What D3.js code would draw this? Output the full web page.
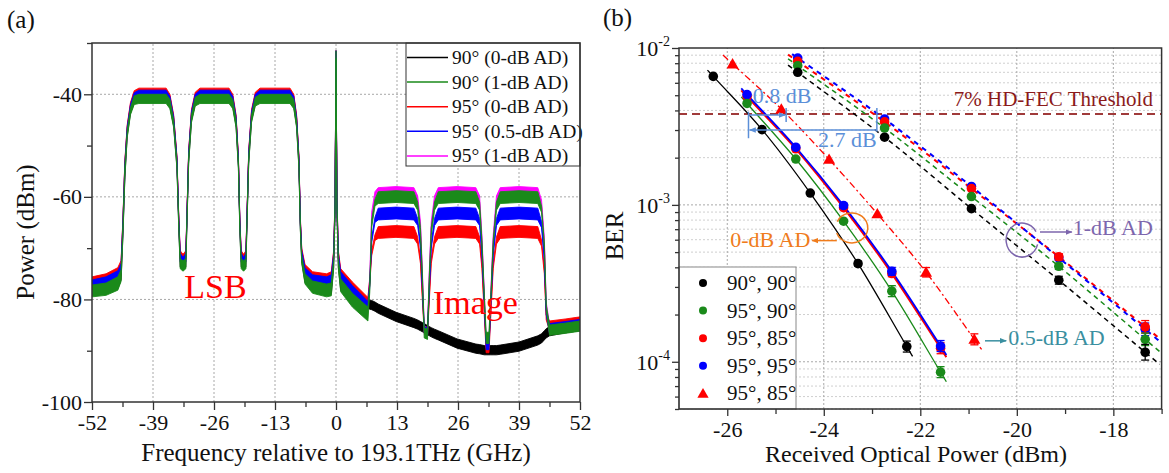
<!DOCTYPE html>
<html>
<head>
<meta charset="utf-8">
<title>Spectra and BER</title>
<script src="https://cdn.jsdelivr.net/npm/d3@7"></script>
<style>
  body { margin: 0; background: #fff; }
  .tick line { stroke: #333; stroke-width: 1.3; }
</style>
</head>
<body>
<svg id="fig" width="1169" height="473"></svg>
<script>
// ---------------- data: panel (a) optical spectra ----------------
// frequency grid (GHz, relative to 193.1 THz) shared by all traces,
// each trace keeps the lower / upper edge of its noise band (dBm)
var specFreq = [-52, -49, -46.5, -45.8, -45.4, -45.0, -44.5, -43.8, -43.0, -42.0,
  -36.2, -35.4, -34.6, -33.9, -33.5, -33.2, -32.6, -32.0, -31.8, -31.4,
  -30.8, -30.0, -29.0, -22.8, -22.0, -21.3, -20.8, -20.5, -20.2, -19.7,
  -19.2, -19.0, -18.6, -18.0, -17.2, -16.2, -9.8, -9.0, -8.4, -7.9,
  -7.6, -7.3, -6.6, -5.0, -2.0, -1.0, -0.5, -0.2, 0, 0.2,
  0.5, 1.0, 3.5, 6.8, 7.2, 7.6, 8.3, 9.0, 12.8, 16.6,
  17.4, 18.0, 18.4, 18.8, 19.5, 19.9, 20.3, 21.0, 21.8, 25.8,
  29.8, 30.6, 31.1, 31.6, 32.0, 32.6, 33.0, 33.5, 34.2, 35.0,
  39.0, 43.0, 43.8, 44.4, 44.8, 45.5, 49, 52];

var black0Lo = [-79.2, -78.9, -77.9, -76.2, -67.2, -56.2, -48.2, -43.7, -41.7, -41.5,
  -41.5, -42.5, -46.2, -54.2, -66.2, -73.7, -74.2, -73.7, -66.2, -53.2,
  -45.2, -42, -41.5, -41.5, -42.5, -46.2, -54.2, -66.2, -73.7, -74.2,
  -73.7, -66.2, -53.2, -45.2, -42, -41.5, -41.5, -42.5, -46.2, -54.2,
  -66.2, -72.7, -76.7, -78.5, -79.2, -79, -73.7, -62.7, -33, -62.7,
  -73.7, -78.2, -81.2, -81.7, -81.9, -82, -82.3, -82.7, -84.3, -85.5,
  -85.8, -86.1, -86.3, -86.5, -86.9, -87.1, -87.3, -87.6, -87.9, -89.5,
  -90.5, -90.6, -90.7, -90.8, -90.8, -90.8, -90.8, -90.8, -90.8, -90.7,
  -90.1, -88.9, -88.5, -87.9, -87.5, -87.1, -86.5, -86.1];
var black0Hi = [-76.9, -76.5, -75.3, -73.9, -64.7, -53.7, -46.7, -42.3, -40, -39.7,
  -39.7, -40.7, -44.7, -52.7, -64.7, -71.7, -72.2, -71.7, -64.7, -51.7,
  -43.7, -40.3, -39.7, -39.7, -40.7, -44.7, -52.7, -64.7, -71.7, -72.2,
  -71.7, -64.7, -51.7, -43.7, -40.3, -39.7, -39.7, -40.7, -44.7, -52.7,
  -64.7, -71.2, -74.7, -76.1, -76.7, -76.5, -71.7, -60.7, -31.5, -60.7,
  -71.7, -75.7, -78.5, -79.9, -80.1, -80.2, -80.5, -80.9, -82.5, -83.7,
  -84, -84.3, -84.5, -84.7, -85.1, -85.3, -85.5, -85.8, -86.1, -87.7,
  -88.7, -88.8, -88.9, -89, -89, -89, -89, -89, -89, -88.9,
  -88.3, -87.1, -86.7, -86.1, -85.7, -85.3, -84.7, -84.3];

var green1Lo = [-79.5, -79.2, -78.2, -76.5, -67.5, -56.5, -48.5, -44, -42, -41.8,
  -41.8, -42.8, -46.5, -54.5, -66.5, -74, -74.5, -74, -66.5, -53.5,
  -45.5, -42.3, -41.8, -41.8, -42.8, -46.5, -54.5, -66.5, -74, -74.5,
  -74, -66.5, -53.5, -45.5, -42.3, -41.8, -41.8, -42.8, -46.5, -54.5,
  -66.5, -73, -77, -78.8, -79.5, -79.3, -74, -63, -33, -63,
  -74, -78.5, -81.5, -84.2, -78.5, -66, -61.8, -61.3, -61.1, -61.3,
  -62.6, -67.5, -76, -87.5, -87.8, -76, -67.5, -62.6, -61.3, -61.1,
  -61.3, -62.6, -69.5, -80, -88.6, -88.6, -80, -69.5, -62.6, -61.3,
  -61.1, -61.3, -63, -70, -82, -87, -86.6, -86.2];
var green1Hi = [-77.2, -76.8, -75.6, -74.2, -65, -54, -47, -42.6, -40.3, -40,
  -40, -41, -45, -53, -65, -72, -72.5, -72, -65, -52,
  -44, -40.6, -40, -40, -41, -45, -53, -65, -72, -72.5,
  -72, -65, -52, -44, -40.6, -40, -40, -41, -45, -53,
  -65, -71.5, -75, -76.4, -77, -76.8, -72, -61, -31.5, -61,
  -72, -76, -78.8, -81.5, -77, -64.5, -60.5, -59, -58.8, -59,
  -61, -66, -75, -85.5, -85.8, -75, -66, -61, -59, -58.8,
  -59, -61, -68.5, -79, -86.4, -86.4, -79, -68.5, -61, -59,
  -58.8, -59, -61.8, -69, -81, -85, -84.6, -84.2];

var red0Lo = [-77.2, -76.8, -75.8, -74.2, -66, -55, -47.2, -42.6, -40.3, -39.7,
  -39.7, -41, -45, -53, -65, -72, -73, -72, -65, -52,
  -44, -40.6, -39.7, -39.7, -41, -45, -53, -65, -72, -73,
  -72, -65, -52, -44, -40.6, -39.7, -39.7, -41, -45, -53,
  -65, -71.5, -74.8, -76, -76.5, -76, -72, -62, -33, -62,
  -72, -75.5, -78.2, -81, -77, -71.5, -68.5, -68.1, -67.9, -68.1,
  -69.2, -73, -80, -86.5, -87, -80, -73, -69.2, -68.1, -67.9,
  -68.1, -69.2, -74, -83, -90.4, -90.4, -83, -74, -69.2, -68.1,
  -67.9, -68.1, -69.6, -75, -84, -86, -85.6, -85.2];
var red0Hi = [-75.6, -75.0, -73.8, -72.4, -64, -53, -46, -41.6, -39.3, -38.8,
  -38.8, -40, -44, -52, -64, -70.5, -71.2, -70.5, -64, -51,
  -43, -39.6, -38.8, -38.8, -40, -44, -52, -64, -70.5, -71.2,
  -70.5, -64, -51, -43, -39.6, -38.8, -38.8, -40, -44, -52,
  -64, -70, -73.2, -74.6, -75, -74.6, -70.5, -60, -31.5, -60,
  -70.5, -74, -76.6, -79.6, -76, -70.5, -67.4, -65.8, -65.6, -65.8,
  -67.8, -72, -79, -85.3, -85.5, -79, -72, -67.8, -65.8, -65.6,
  -65.8, -67.8, -73, -82, -88.6, -88.6, -82, -73, -67.8, -65.8,
  -65.6, -65.8, -68.4, -74, -83, -84.2, -83.8, -83.4];

var blue05Lo = [-77.8, -77.4, -76.4, -74.8, -66.5, -55.5, -47.6, -43, -40.7, -40.1,
  -40.1, -41.4, -45.4, -53.4, -65.5, -72.6, -73.6, -72.6, -65.5, -52.4,
  -44.4, -41, -40.1, -40.1, -41.4, -45.4, -53.4, -65.5, -72.6, -73.6,
  -72.6, -65.5, -52.4, -44.4, -41, -40.1, -40.1, -41.4, -45.4, -53.4,
  -65.5, -72, -75.4, -76.6, -77.1, -76.6, -72.5, -62.5, -33, -62.5,
  -72.5, -76.2, -79, -82, -77.5, -69, -65, -64.5, -64.3, -64.5,
  -65.6, -70, -78, -86.5, -87, -78, -70, -65.6, -64.5, -64.3,
  -64.5, -65.6, -71.5, -81, -89.8, -89.8, -81, -71.5, -65.6, -64.5,
  -64.3, -64.5, -66, -72.5, -83, -86.5, -86.1, -85.7];
var blue05Hi = [-76.2, -75.6, -74.4, -73, -64.5, -53.5, -46.4, -42, -39.7, -39.2,
  -39.2, -40.4, -44.4, -52.4, -64.5, -71, -71.8, -71, -64.5, -51.4,
  -43.4, -40, -39.2, -39.2, -40.4, -44.4, -52.4, -64.5, -71, -71.8,
  -71, -64.5, -51.4, -43.4, -40, -39.2, -39.2, -40.4, -44.4, -52.4,
  -64.5, -70.5, -73.8, -75.2, -75.6, -75.2, -71, -60.5, -31.5, -60.5,
  -71, -74.6, -77.3, -80.4, -76.5, -68, -64, -62.2, -62, -62.2,
  -64.2, -69, -77, -85.3, -85.5, -77, -69, -64.2, -62.2, -62,
  -62.2, -64.2, -70.5, -80, -88, -88, -80, -70.5, -64.2, -62.2,
  -62, -62.2, -64.8, -71.5, -82, -84.7, -84.3, -83.9];

var mag1Lo = [-77.6, -77.2, -76.2, -74.6, -66.3, -55.3, -47.5, -42.9, -40.6, -40.1,
  -40.1, -41.3, -45.3, -53.3, -65.3, -72.4, -73.4, -72.4, -65.3, -52.3,
  -44.3, -40.9, -40.1, -40.1, -41.3, -45.3, -53.3, -65.3, -72.4, -73.4,
  -72.4, -65.3, -52.3, -44.3, -40.9, -40.1, -40.1, -41.3, -45.3, -53.3,
  -65.3, -71.8, -75.2, -76.4, -76.9, -76.4, -72.3, -62.3, -33, -62.3,
  -72.3, -76, -78.8, -81.8, -77, -64.5, -60.2, -59.6, -59.4, -59.6,
  -61, -66, -75, -86.8, -87.2, -75, -66, -61, -59.6, -59.4,
  -59.6, -61, -68.5, -79.5, -89.5, -89.5, -79.5, -68.5, -61, -59.6,
  -59.4, -59.6, -61.6, -69, -81.5, -86.6, -86.2, -85.8];
var mag1Hi = [-76, -75.4, -74.2, -72.8, -64.3, -53.3, -46.3, -41.9, -39.6, -39.2,
  -39.2, -40.3, -44.3, -52.3, -64.3, -70.8, -71.6, -70.8, -64.3, -51.3,
  -43.3, -39.9, -39.2, -39.2, -40.3, -44.3, -52.3, -64.3, -70.8, -71.6,
  -70.8, -64.3, -51.3, -43.3, -39.9, -39.2, -39.2, -40.3, -44.3, -52.3,
  -64.3, -70.3, -73.6, -75, -75.4, -75, -70.8, -60.3, -31.5, -60.3,
  -70.8, -74.4, -77.1, -80.2, -75.5, -63, -59, -58.2, -58, -58.2,
  -59.8, -64.8, -74, -85.2, -85.5, -74, -64.8, -59.8, -58.2, -58,
  -58.2, -59.8, -67.5, -78.5, -88, -88, -78.5, -67.5, -59.8, -58.2,
  -58, -58.2, -60.6, -68, -80.5, -84.8, -84.4, -84];

var traceNames = ["90° (0-dB AD)", "90° (1-dB AD)", "95° (0-dB AD)", "95° (0.5-dB AD)", "95° (1-dB AD)"];
var freqTicks = [-52, -39, -26, -13, 0, 13, 26, 39, 52];
var freqMinor = [-45.5, -32.5, -19.5, -6.5, 6.5, 19.5, 32.5, 45.5];
var powerTicks = [-100, -80, -60, -40];
var powerMinor = [-90, -70, -50, -30];

// ---------------- data: panel (b) BER curves ----------------
var rx9090 = [-26.29, -25.28, -24.28, -23.29, -22.28];
var rx95xx = [-25.59, -24.58, -23.59, -22.59, -21.58];
var rxTri = [-25.89, -24.88, -23.89, -22.89, -21.88, -20.88];
var rxAD1 = [-24.54, -22.74, -20.94, -19.13, -17.34];

var ber9090 = [6.59e-3, 3.02e-3, 1.19e-3, 4.22e-4, 1.25e-4];
var ber9590 = [4.43e-3, 1.96e-3, 7.87e-4, 2.82e-4, 8.59e-5];
var ber9585 = [4.90e-3, 2.28e-3, 9.60e-4, 3.65e-4, 1.22e-4];
var ber9595 = [5.05e-3, 2.33e-3, 9.91e-4, 3.77e-4, 1.26e-4];
var berTri9585 = [7.91e-3, 4.08e-3, 1.95e-3, 8.77e-4, 3.72e-4, 1.39e-4];
var berAD9090 = [7.00e-3, 2.70e-3, 9.46e-4, 3.31e-4, 1.15e-4];
var berAD9590 = [7.71e-3, 3.09e-3, 1.13e-3, 4.06e-4, 1.39e-4];
var berAD9585 = [8.22e-3, 3.38e-3, 1.27e-3, 4.67e-4, 1.67e-4];
var berAD9595 = [8.63e-3, 3.53e-3, 1.31e-3, 4.60e-4, 1.61e-4];

// error bar half height, in decades
var err9090 = [0, 0, 0, 0.015, 0.035];
var err9590 = [0, 0, 0.01, 0.035, 0.035];
var err9585 = [0, 0, 0.01, 0.02, 0.035];
var err9595 = [0, 0, 0.015, 0.025, 0.035];
var errTri = [0, 0, 0, 0, 0.03, 0.035];
var errAD9090 = [0, 0, 0, 0.025, 0.05];
var errAD9590 = [0, 0, 0, 0.02, 0.04];
var errAD9585 = [0, 0, 0, 0.02, 0.04];
var errAD9595 = [0, 0, 0, 0.015, 0.04];

var fecThreshold = 3.8e-3;
var rxTicks = [-26, -24, -22, -20, -18];
var rxMinor = [-25, -23, -21, -19, -17];
var berTicks = [1e-4, 1e-3, 1e-2];
var berTickExp = ["-4", "-3", "-2"];
var legendB = ["90°, 90°", "95°, 90°", "95°, 85°", "95°, 95°", "95°, 85°"];

// annotation anchors (dBm, BER)
var gapX = [-25.56, -24.78, -22.90];
var gapBer = [3.74e-3, 3.0e-3];

var FONT = "Liberation Serif";
var COL = { black: "#000000", green: "#1a8a1a", red: "#ff0000", blue: "#0000ff", magenta: "#ff00ff" };

var svg = d3.select("#fig");
var defs = svg.append("defs");

function plainAxis(g) {
  g.select(".domain").remove();
}

function arrowHead(id, color) {
  defs.append("marker").attr("id", id)
    .attr("viewBox", "0 0 10 10").attr("refX", 9).attr("refY", 5)
    .attr("markerWidth", 7).attr("markerHeight", 7).attr("markerUnits", "userSpaceOnUse")
    .attr("orient", "auto")
    .append("path").attr("d", "M0,1 L10,5 L0,9 Z").attr("fill", color);
}
arrowHead("arBlue", "#5b8fd8");
arrowHead("arOrange", "#f07c1c");
arrowHead("arPurple", "#7d66ad");
arrowHead("arTeal", "#3a8fa0");

// =============== panel (a) ===============
var xA = d3.scaleLinear().domain([-52, 52]).range([92, 580]);
var yA = d3.scaleLinear().domain([-100, -30]).range([402, 43]);

defs.append("clipPath").attr("id", "clipA").append("rect")
  .attr("x", 92).attr("y", 43).attr("width", 488).attr("height", 359);

var gA = svg.append("g");

gA.append("g").selectAll("line").data(freqTicks.slice(1, -1)).join("line")
  .attr("x1", function(d) { return xA(d); }).attr("x2", function(d) { return xA(d); })
  .attr("y1", yA(-100)).attr("y2", yA(-30))
  .attr("stroke", "#a8a8a8").attr("stroke-width", 1).attr("stroke-dasharray", "2,2");
gA.append("g").selectAll("line").data(powerTicks.slice(1)).join("line")
  .attr("x1", xA(-52)).attr("x2", xA(52))
  .attr("y1", function(d) { return yA(d); }).attr("y2", function(d) { return yA(d); })
  .attr("stroke", "#a8a8a8").attr("stroke-width", 1).attr("stroke-dasharray", "2,2");

var traces = [
  { lo: black0Lo, hi: black0Hi, color: COL.black },
  { lo: green1Lo, hi: green1Hi, color: COL.green },
  { lo: red0Lo, hi: red0Hi, color: COL.red },
  { lo: blue05Lo, hi: blue05Hi, color: COL.blue },
  { lo: mag1Lo, hi: mag1Hi, color: COL.magenta }
];
var drawOrder = [0, 4, 2, 3, 1];

var band = d3.area()
  .x(function(d) { return xA(d.f); })
  .y0(function(d) { return yA(d.lo); })
  .y1(function(d) { return yA(d.hi); });

var gSpec = gA.append("g").attr("clip-path", "url(#clipA)");
drawOrder.forEach(function(k) {
  var t = traces[k];
  var rows = specFreq.map(function(f, i) { return { f: f, lo: t.lo[i], hi: t.hi[i] }; });
  gSpec.append("path").datum(rows)
    .attr("d", band)
    .attr("fill", t.color)
    .attr("stroke", t.color)
    .attr("stroke-width", 0.9)
    .attr("stroke-linejoin", "round");
});

gA.append("text").attr("x", xA(-25.7)).attr("y", yA(-79.7))
  .attr("text-anchor", "middle").attr("font-size", 34).attr("fill", "#ff0000").text("LSB");
gA.append("text").attr("x", xA(29.7)).attr("y", yA(-82.8))
  .attr("text-anchor", "middle").attr("font-size", 34).attr("fill", "#ff0000").text("Image");

// legend (a)
var legA = gA.append("g");
legA.append("rect").attr("x", 406).attr("y", 43).attr("width", 174).attr("height", 123)
  .attr("fill", "#fff").attr("stroke", "#333").attr("stroke-width", 1);
var legColors = [COL.black, COL.green, COL.red, COL.blue, COL.magenta];
traceNames.forEach(function(name, i) {
  var yy = 57.5 + i * 24.6;
  legA.append("line").attr("x1", 407).attr("x2", 448).attr("y1", yy).attr("y2", yy)
    .attr("stroke", legColors[i]).attr("stroke-width", 1.5);
  legA.append("text").attr("x", 452).attr("y", yy + 6.5).attr("font-size", 19.5)
    .attr("fill", "#111").text(name);
});

// axes (a)
var axA1 = gA.append("g").attr("transform", "translate(0,402)")
  .call(d3.axisBottom(xA).tickValues(freqTicks).tickSize(8).tickPadding(4).tickFormat(function(d) { return String(d); }))
  .call(plainAxis);
axA1.selectAll("text").attr("font-size", 22).attr("fill", "#111");
gA.append("g").attr("transform", "translate(0,402)")
  .call(d3.axisBottom(xA).tickValues(freqMinor).tickSize(5).tickFormat(""))
  .call(plainAxis);
var axA2 = gA.append("g").attr("transform", "translate(92,0)")
  .call(d3.axisLeft(yA).tickValues(powerTicks).tickSize(8).tickPadding(2).tickFormat(function(d) { return String(d); }))
  .call(plainAxis);
axA2.selectAll("text").attr("font-size", 22).attr("fill", "#111");
gA.append("g").attr("transform", "translate(92,0)")
  .call(d3.axisLeft(yA).tickValues(powerMinor).tickSize(5).tickFormat(""))
  .call(plainAxis);

gA.append("rect").attr("x", 92).attr("y", 43).attr("width", 488).attr("height", 359)
  .attr("fill", "none").attr("stroke", "#333").attr("stroke-width", 1.5);

gA.append("text").attr("x", 336).attr("y", 461).attr("text-anchor", "middle")
  .attr("font-size", 25).attr("fill", "#111").text("Frequency relative to 193.1THz (GHz)");
gA.append("text").attr("transform", "translate(34,232) rotate(-90)").attr("text-anchor", "middle")
  .attr("font-size", 25).attr("fill", "#111").text("Power (dBm)");
gA.append("text").attr("x", 7).attr("y", 28).attr("font-size", 25).attr("fill", "#111").text("(a)");

// =============== panel (b) ===============
var xB = d3.scaleLinear().domain([-27, -17]).range([679, 1161.6]);
var yB = d3.scaleLog().domain([5e-5, 1e-2]).range([409, 48]);

defs.append("clipPath").attr("id", "clipB").append("rect")
  .attr("x", 679).attr("y", 48).attr("width", 482.6).attr("height", 361);

var gB = svg.append("g");
var minorBer = yB.ticks().filter(function(d) {
  var e = Math.log10(d); return Math.abs(e - Math.round(e)) > 1e-6;
});

gB.append("g").selectAll("line").data(minorBer).join("line")
  .attr("x1", xB(-27)).attr("x2", xB(-17))
  .attr("y1", function(d) { return yB(d); }).attr("y2", function(d) { return yB(d); })
  .attr("stroke", "#cfcfcf").attr("stroke-width", 1).attr("stroke-dasharray", "2,2");
gB.append("g").selectAll("line").data(berTicks.slice(0, 2)).join("line")
  .attr("x1", xB(-27)).attr("x2", xB(-17))
  .attr("y1", function(d) { return yB(d); }).attr("y2", function(d) { return yB(d); })
  .attr("stroke", "#a8a8a8").attr("stroke-width", 1).attr("stroke-dasharray", "2,2");
gB.append("g").selectAll("line").data(rxTicks).join("line")
  .attr("x1", function(d) { return xB(d); }).attr("x2", function(d) { return xB(d); })
  .attr("y1", yB(5e-5)).attr("y2", yB(1e-2))
  .attr("stroke", "#a8a8a8").attr("stroke-width", 1).attr("stroke-dasharray", "2,2");

// FEC threshold
gB.append("line").attr("x1", xB(-27)).attr("x2", xB(-17))
  .attr("y1", yB(fecThreshold)).attr("y2", yB(fecThreshold))
  .attr("stroke", "#a03a3a").attr("stroke-width", 2).attr("stroke-dasharray", "8,5");
gB.append("text").attr("x", xB(-17.18)).attr("y", yB(4.27e-3)).attr("text-anchor", "end")
  .attr("font-size", 21).attr("fill", "#8b1a1a").text("7% HD-FEC Threshold");

var series = [
  { x: rxAD1, y: berAD9090, err: errAD9090, color: COL.black, dash: "5,4", off: 0, w: 1.5, ext: [0.2, 0.3], mark: "c" },
  { x: rxAD1, y: berAD9590, err: errAD9590, color: COL.green, dash: "5,4", off: 0, w: 1.5, ext: [0.2, 0.3], mark: "c" },
  { x: rxAD1, y: berAD9585, err: errAD9585, color: COL.red, dash: "5,5", off: 0, w: 2, ext: [0.2, 0.3], mark: "c" },
  { x: rxAD1, y: berAD9595, err: errAD9595, color: COL.blue, dash: "5,5", off: 5, w: 2, ext: [0.2, 0.3], mark: "c" },
  { x: rxTri, y: berTri9585, err: errTri, color: COL.red, dash: "7,3,2,3", off: 0, w: 1.3, ext: [0.2, 0.15], mark: "t" },
  { x: rx9090, y: ber9090, err: err9090, color: COL.black, dash: null, off: 0, w: 1.3, ext: [0.12, 0.12], mark: "c" },
  { x: rx95xx, y: ber9590, err: err9590, color: COL.green, dash: null, off: 0, w: 1.3, ext: [0.12, 0.12], mark: "c" },
  { x: rx95xx, y: ber9585, err: err9585, color: COL.red, dash: null, off: 0, w: 2, ext: [0.12, 0.12], mark: "c" },
  { x: rx95xx, y: ber9595, err: err9595, color: COL.blue, dash: null, off: 0, w: 1.8, ext: [0.12, 0.12], mark: "c" }
];
var markOrder = [3, 2, 1, 0, 4, 7, 8, 6, 5];

function withEnds(s) {
  var n = s.x.length;
  var ly = s.y.map(Math.log10);
  var s0 = (ly[1] - ly[0]) / (s.x[1] - s.x[0]);
  var s1 = (ly[n - 1] - ly[n - 2]) / (s.x[n - 1] - s.x[n - 2]);
  var pts = s.x.map(function(x, i) { return [x, s.y[i]]; });
  pts.unshift([s.x[0] - s.ext[0], Math.pow(10, ly[0] - s0 * s.ext[0])]);
  pts.push([s.x[n - 1] + s.ext[1], Math.pow(10, ly[n - 1] + s1 * s.ext[1])]);
  return pts;
}

var berLine = d3.line()
  .x(function(d) { return xB(d[0]); })
  .y(function(d) { return yB(d[1]); })
  .curve(d3.curveMonotoneX);

var gLines = gB.append("g").attr("clip-path", "url(#clipB)");
series.forEach(function(s) {
  gLines.append("path").datum(withEnds(s))
    .attr("d", berLine).attr("fill", "none")
    .attr("stroke", s.color).attr("stroke-width", s.w)
    .attr("stroke-dasharray", s.dash).attr("stroke-dashoffset", s.off);
});

var triSym = d3.symbol().type(d3.symbolTriangle).size(62);
markOrder.forEach(function(k) {
  var s = series[k];
  var pts = s.x.map(function(x, i) { return { x: x, y: s.y[i], e: s.err[i] }; });
  var g = gB.append("g");
  if (s.mark === "c") {
    g.selectAll("circle").data(pts).join("circle")
      .attr("cx", function(d) { return xB(d.x); }).attr("cy", function(d) { return yB(d.y); })
      .attr("r", 4.8).attr("fill", s.color);
  } else {
    g.selectAll("path").data(pts).join("path")
      .attr("d", triSym)
      .attr("transform", function(d) { return "translate(" + xB(d.x) + "," + (yB(d.y) + 1) + ")"; })
      .attr("fill", s.color);
  }
  var eb = g.selectAll("g.eb").data(pts.filter(function(d) { return d.e > 0; })).join("g");
  eb.append("line")
    .attr("x1", function(d) { return xB(d.x); }).attr("x2", function(d) { return xB(d.x); })
    .attr("y1", function(d) { return yB(d.y * Math.pow(10, d.e)); })
    .attr("y2", function(d) { return yB(d.y / Math.pow(10, d.e)); })
    .attr("stroke", s.color).attr("stroke-width", 1.3);
  [1, -1].forEach(function(sg) {
    eb.append("line")
      .attr("x1", function(d) { return xB(d.x) - 4; }).attr("x2", function(d) { return xB(d.x) + 4; })
      .attr("y1", function(d) { return yB(d.y * Math.pow(10, sg * d.e)); })
      .attr("y2", function(d) { return yB(d.y * Math.pow(10, sg * d.e)); })
      .attr("stroke", s.color).attr("stroke-width", 1.3);
  });
});

// 0.8 dB / 2.7 dB brackets
var cBlue = "#5b8fd8";
gB.append("line").attr("x1", xB(gapX[0])).attr("x2", xB(gapX[0]))
  .attr("y1", yB(3.93e-3)).attr("y2", yB(2.66e-3)).attr("stroke", cBlue).attr("stroke-width", 1.5);
gB.append("line").attr("x1", xB(gapX[1])).attr("x2", xB(gapX[1]))
  .attr("y1", yB(4.15e-3)).attr("y2", yB(3.37e-3)).attr("stroke", cBlue).attr("stroke-width", 1.5);
gB.append("line").attr("x1", xB(gapX[2])).attr("x2", xB(gapX[2]))
  .attr("y1", yB(4.15e-3)).attr("y2", yB(2.93e-3)).attr("stroke", cBlue).attr("stroke-width", 1.5);
gB.append("line").attr("x1", xB(gapX[0])).attr("x2", xB(gapX[1]) - 1)
  .attr("y1", yB(gapBer[0])).attr("y2", yB(gapBer[0]))
  .attr("stroke", cBlue).attr("stroke-width", 1.5).attr("marker-end", "url(#arBlue)");
gB.append("line").attr("x1", xB(gapX[2])).attr("x2", xB(gapX[0]) + 1)
  .attr("y1", yB(gapBer[1])).attr("y2", yB(gapBer[1]))
  .attr("stroke", cBlue).attr("stroke-width", 1.5).attr("marker-end", "url(#arBlue)");
gB.append("text").attr("x", xB(-25.47)).attr("y", yB(4.46e-3)).attr("font-size", 22)
  .attr("fill", cBlue).text("0.8 dB");
gB.append("text").attr("x", xB(-24.12)).attr("y", yB(2.35e-3)).attr("font-size", 22)
  .attr("fill", cBlue).text("2.7 dB");

// loop helper: open ellipse from angle a0 to a1 (degrees, screen coords)
function loopPath(cx, cy, rx, ry, a0, a1, sweep) {
  var r = Math.PI / 180;
  return "M" + (cx + rx * Math.cos(a0 * r)) + "," + (cy + ry * Math.sin(a0 * r)) +
    " A" + rx + "," + ry + " 0 1 " + sweep + " " + (cx + rx * Math.cos(a1 * r)) + "," + (cy + ry * Math.sin(a1 * r));
}

// 0-dB AD
var cOr = "#f07c1c";
gB.append("path").attr("d", loopPath(xB(-23.42), yB(7.13e-4), 16, 15, 205, 160, 1))
  .attr("fill", "none").attr("stroke", cOr).attr("stroke-width", 1.5);
gB.append("line").attr("x1", xB(-23.73)).attr("x2", xB(-24.24))
  .attr("y1", yB(5.92e-4)).attr("y2", yB(5.92e-4))
  .attr("stroke", cOr).attr("stroke-width", 1.5).attr("marker-end", "url(#arOrange)");
gB.append("text").attr("x", xB(-24.28)).attr("y", yB(5.42e-4)).attr("text-anchor", "end")
  .attr("font-size", 22).attr("fill", cOr).text("0-dB AD");

// 1-dB AD
var cPu = "#7d66ad";
gB.append("path").attr("d", loopPath(xB(-19.89), yB(5.97e-4), 16, 17, 330, 15, 0))
  .attr("fill", "none").attr("stroke", cPu).attr("stroke-width", 1.5);
gB.append("line").attr("x1", xB(-19.52)).attr("x2", xB(-18.86))
  .attr("y1", yB(6.71e-4)).attr("y2", yB(6.71e-4))
  .attr("stroke", cPu).attr("stroke-width", 1.5).attr("marker-end", "url(#arPurple)");
gB.append("text").attr("x", xB(-18.84)).attr("y", yB(6.43e-4))
  .attr("font-size", 22).attr("fill", cPu).text("1-dB AD");

// 0.5-dB AD
var cTe = "#3a8fa0";
gB.append("line").attr("x1", xB(-20.66)).attr("x2", xB(-20.22))
  .attr("y1", yB(1.36e-4)).attr("y2", yB(1.36e-4))
  .attr("stroke", cTe).attr("stroke-width", 1.5).attr("marker-end", "url(#arTeal)");
gB.append("text").attr("x", xB(-20.18)).attr("y", yB(1.28e-4))
  .attr("font-size", 22).attr("fill", cTe).text("0.5-dB AD");

// legend (b)
var legB = gB.append("g");
legB.append("rect").attr("x", 679).attr("y", 267).attr("width", 117).attr("height", 142)
  .attr("fill", "#fff").attr("stroke", "#888").attr("stroke-width", 1);
var legBColors = [COL.black, COL.green, COL.red, COL.blue, COL.red];
legendB.forEach(function(name, i) {
  var yy = 283 + i * 27.6;
  if (i < 4) {
    legB.append("circle").attr("cx", 703).attr("cy", yy).attr("r", 4).attr("fill", legBColors[i]);
  } else {
    legB.append("path").attr("d", d3.symbol().type(d3.symbolTriangle).size(55))
      .attr("transform", "translate(703," + (yy + 1) + ")").attr("fill", legBColors[i]);
  }
  legB.append("text").attr("x", 727).attr("y", yy + 7).attr("font-size", 21)
    .attr("fill", "#111").text(name);
});

// axes (b)
var axB1 = gB.append("g").attr("transform", "translate(0,409)")
  .call(d3.axisBottom(xB).tickValues(rxTicks).tickSize(7).tickPadding(5).tickFormat(function(d) { return String(d); }))
  .call(plainAxis);
axB1.selectAll("text").attr("font-size", 22).attr("fill", "#111");
gB.append("g").attr("transform", "translate(0,409)")
  .call(d3.axisBottom(xB).tickValues(rxMinor).tickSize(5).tickFormat(""))
  .call(plainAxis);
gB.append("g").attr("transform", "translate(679,0)")
  .call(d3.axisLeft(yB).tickValues(berTicks).tickSize(7).tickFormat(""))
  .call(plainAxis);
gB.append("g").attr("transform", "translate(679,0)")
  .call(d3.axisLeft(yB).tickValues(minorBer).tickSize(4).tickFormat(""))
  .call(plainAxis);

berTicks.forEach(function(v, i) {
  var t = gB.append("text").attr("x", 670).attr("y", yB(v) + 8).attr("text-anchor", "end")
    .attr("font-size", 22).attr("fill", "#111");
  t.append("tspan").text("10");
  t.append("tspan").attr("dy", -10).attr("font-size", 14).text(berTickExp[i]);
});

gB.append("rect").attr("x", 679).attr("y", 48).attr("width", 482.6).attr("height", 361)
  .attr("fill", "none").attr("stroke", "#333").attr("stroke-width", 1.5);

gB.append("text").attr("x", 916).attr("y", 462).attr("text-anchor", "middle")
  .attr("font-size", 24).attr("fill", "#111").text("Received Optical Power (dBm)");
gB.append("text").attr("transform", "translate(623,236) rotate(-90)").attr("text-anchor", "middle")
  .attr("font-size", 25).attr("fill", "#111").text("BER");
gB.append("text").attr("x", 603).attr("y", 26).attr("font-size", 25).attr("fill", "#111").text("(b)");

// every text element gets the serif face directly
svg.selectAll("text").attr("font-family", FONT);
</script>
</body>
</html>
